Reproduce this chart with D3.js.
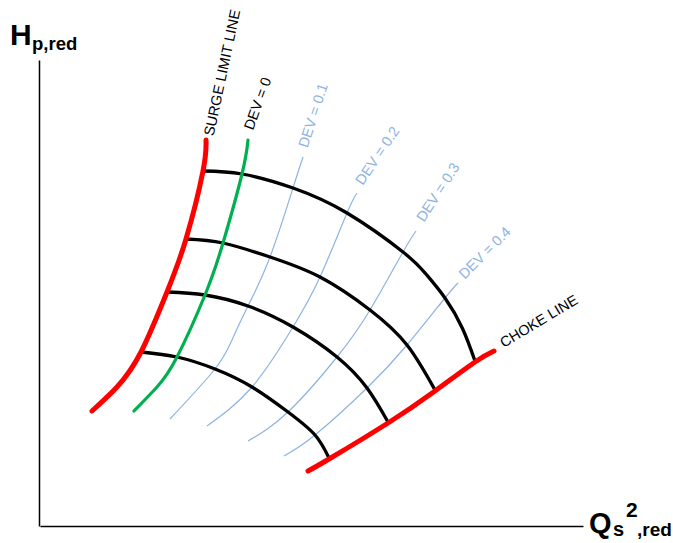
<!DOCTYPE html>
<html>
<head>
<meta charset="utf-8">
<script src="https://cdn.jsdelivr.net/npm/d3@7"></script>
<style>
  html, body { margin: 0; padding: 0; background: #fff; }
  svg { display: block; font-family: Arial, "Liberation Sans", sans-serif; }
</style>
</head>
<body>
<svg id="map" width="673" height="543"></svg>
<script>
// Reduced compressor map: head vs. squared reduced flow (schematic, arbitrary units)
const xMax = 10.86;   // Qs^2,red axis extent
const yMax = 9.32;    // Hp,red axis extent

// Limit lines [Q², H]
const surgeLine = [[3.32,7.72],[3.26,7.10],[2.92,5.74],[2.54,4.68],[2.02,3.48],[1.54,2.78],[1.04,2.30]];
const chokeLine = [[5.36,1.10],[5.78,1.34],[6.96,2.06],[7.90,2.70],[8.70,3.28],[9.08,3.50]];

// Deviation lines, DEV = 0 ... 0.4
const devValues = ["0", "0.1", "0.2", "0.3", "0.4"];
const dev0  = [[4.16,7.72],[4.04,7.04],[3.66,5.66],[3.30,4.62],[2.74,3.38],[2.34,2.78],[1.88,2.30]];
const dev01 = [[5.26,7.38],[5.06,6.76],[4.60,5.38],[4.16,4.40],[3.84,3.72],[3.50,3.14],[2.60,2.14]];
const dev02 = [[6.34,6.66],[6.14,6.26],[5.60,4.98],[5.06,3.98],[4.24,2.78],[3.34,2.00]];
const dev03 = [[7.52,5.90],[7.26,5.48],[6.60,4.32],[5.94,3.38],[4.96,2.28],[4.16,1.70]];
const dev04 = [[8.36,4.86],[8.10,4.56],[7.34,3.62],[6.54,2.76],[5.50,1.82],[4.88,1.40]];

// Constant-speed lines, surge to choke (highest speed first)
const speed1 = [[3.26,7.10],[4.04,7.04],[5.06,6.76],[6.14,6.26],[7.26,5.48],[7.71,5.05],[8.10,4.56],[8.45,3.95],[8.70,3.30]];
const speed2 = [[2.92,5.74],[3.66,5.66],[4.60,5.38],[5.60,4.98],[6.60,4.32],[7.34,3.62],[7.90,2.72]];
const speed3 = [[2.54,4.68],[3.30,4.62],[4.16,4.40],[5.06,3.98],[5.94,3.38],[6.54,2.76],[6.96,2.08]];
const speed4 = [[2.02,3.48],[2.74,3.38],[3.50,3.14],[4.24,2.78],[4.96,2.28],[5.50,1.82],[5.78,1.36]];

const surgeLabel = "SURGE LIMIT LINE";
const chokeLabel = "CHOKE LINE";

// ---------------------------------------------------------------
const svg = d3.select("#map");
const x = d3.scaleLinear().domain([0, xMax]).range([40, 583]);
const y = d3.scaleLinear().domain([0, yMax]).range([526, 60]);

const BLUE = "#8db3e2", GREEN = "#00b050", RED = "#ff0000";

const line = d3.line()
  .x(d => x(d[0]))
  .y(d => y(d[1]))
  .curve(d3.curveNatural);

// axes: plain lines, no ticks
svg.append("g")
  .attr("transform", `translate(0,${y(0)})`)
  .call(d3.axisBottom(x).tickValues([]).tickSizeOuter(0))
  .call(g => g.select(".domain").attr("stroke", "#000").attr("stroke-width", 1.5));
svg.append("g")
  .attr("transform", `translate(${x(0) - 1},0)`)
  .call(d3.axisLeft(y).tickValues([]).tickSizeOuter(0))
  .call(g => g.select(".domain").attr("stroke", "#000").attr("stroke-width", 1.5));

const devLines = [dev01, dev02, dev03, dev04];
const speedLines = [speed1, speed2, speed3, speed4];

// thin deviation lines
svg.append("g").selectAll("path").data(devLines).join("path")
  .attr("d", line).attr("fill", "none")
  .attr("stroke", BLUE).attr("stroke-width", 1.2);

// constant-speed lines
svg.append("g").selectAll("path").data(speedLines).join("path")
  .attr("d", line).attr("fill", "none")
  .attr("stroke", "#000").attr("stroke-width", 3.3);

// DEV = 0
svg.append("path").datum(dev0)
  .attr("d", line).attr("fill", "none")
  .attr("stroke", GREEN).attr("stroke-width", 3.2).attr("stroke-linecap", "round");

// surge and choke limits
svg.append("g").selectAll("path").data([surgeLine, chokeLine]).join("path")
  .attr("d", line).attr("fill", "none")
  .attr("stroke", RED).attr("stroke-width", 5).attr("stroke-linecap", "round");

// curve labels, placed at the free end of each line
const labelSpecs = [
  { text: surgeLabel,             at: surgeLine[0], dx: 2.5, dy: -4.5, angle: -78, color: "#000" },
  { text: "DEV = " + devValues[0], at: dev0[0],     dx: 0,   dy: -11,  angle: -70, color: "#000" },
  { text: "DEV = " + devValues[1], at: dev01[0],    dx: -0.5,dy: -10,  angle: -72, color: BLUE },
  { text: "DEV = " + devValues[2], at: dev02[0],    dx: 1.5, dy: -10,  angle: -56, color: BLUE },
  { text: "DEV = " + devValues[3], at: dev03[0],    dx: 3.5, dy: -11,  angle: -57, color: BLUE },
  { text: "DEV = " + devValues[4], at: dev04[0],    dx: 3,   dy: -7,   angle: -45, color: BLUE },
  { text: chokeLabel,             at: chokeLine[chokeLine.length - 1], dx: 7, dy: -7.5, angle: -31, color: "#000" }
];

svg.append("g").selectAll("text").data(labelSpecs).join("text")
  .attr("transform", d => `translate(${x(d.at[0]) + d.dx},${y(d.at[1]) + d.dy}) rotate(${d.angle})`)
  .attr("dy", "0.36em")
  .attr("font-size", 14.5)
  .attr("fill", d => d.color)
  .text(d => d.text);

// axis titles
const title = svg.append("g").attr("font-weight", "bold").attr("fill", "#000");
title.append("text").attr("x", 10).attr("y", 45).attr("font-size", 30).text("H");
title.append("text").attr("x", 32).attr("y", 50).attr("font-size", 18.5).text("p,red");

title.append("text").attr("x", 589).attr("y", 533).attr("font-size", 29).text("Q");
title.append("text").attr("x", 613).attr("y", 536).attr("font-size", 20).text("s");
title.append("text").attr("x", 626).attr("y", 517).attr("font-size", 21).text("2");
title.append("text").attr("x", 637).attr("y", 536).attr("font-size", 19).text(",red");
</script>
</body>
</html>
